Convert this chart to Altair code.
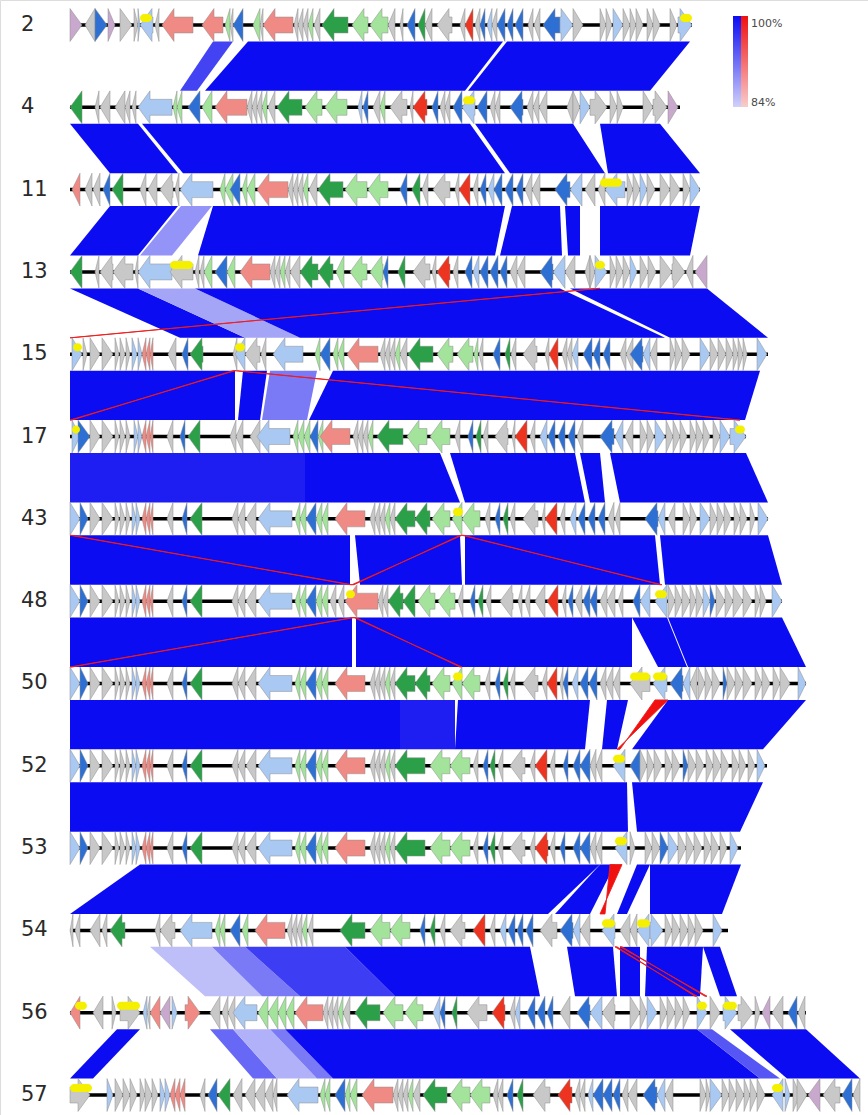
import altair as alt
import pandas as pd

# ---------------------------------------------------------------- data
TRACK_NAMES = ["2", "4", "11", "13", "15", "17", "43", "48", "50", "52", "53", "54", "56", "57"]
TRACK_LENGTHS = [62.2, 61.0, 63.0, 63.7, 69.8, 67.6, 69.8, 71.2, 73.6, 69.7, 67.1, 65.8, 73.6, 79.0]

# gene classes -> fill colour
GENE_COLOURS = {
    "g": "#c8c8c8",  # hypothetical
    "b": "#a9c8f2",  # light blue
    "B": "#2e6fd4",  # dark blue
    "p": "#f08a84",  # salmon
    "G": "#2ca048",  # dark green
    "l": "#a4e39c",  # light green
    "r": "#ec3420",  # red
    "m": "#c8a8cc",  # mauve
}
YELLOW = "#f5f000"

# genes: "start,end,class+strand"; "start,end,Y" is a yellow tag on the upper half
GENES_2 = """
0.0,1.2,m> 1.5,2.5,g< 2.5,3.7,B> 3.8,4.5,m> 5.0,6.2,g> 6.4,6.8,g> 6.8,7.0,b> 7.0,8.3,b< 7.0,8.2,Y
8.5,8.9,g< 9.2,12.3,p< 13.2,15.3,p< 15.5,16.0,l< 16.0,16.3,g< 16.3,17.3,B< 18.3,19.0,l< 19.0,19.3,g<
19.3,22.3,p< 22.4,22.8,g< 22.8,23.3,g< 23.3,23.8,g< 23.8,24.3,l< 24.4,25.0,g< 25.2,27.8,G< 28.2,29.8,l<
30.0,31.8,l< 31.8,32.5,g< 33.0,33.3,g< 33.7,34.5,B< 34.8,35.5,G< 35.5,36.2,g< 36.7,38.2,g< 39.0,39.5,g<
39.5,40.3,r< 40.5,41.0,g< 41.0,41.5,B< 41.7,42.2,b< 42.2,42.7,g< 42.7,43.5,B< 43.7,44.3,B< 44.5,45.3,B<
45.8,46.3,g< 46.4,47.0,g< 47.3,49.0,B< 49.0,50.3,b> 50.3,51.3,g> 53.0,53.6,g> 53.6,54.2,g> 54.3,55.3,b>
55.3,56.0,g> 56.0,56.6,g> 56.6,57.3,g> 57.7,58.3,g> 58.3,59.0,g> 60.0,60.7,g> 60.8,62.2,b> 61.0,62.2,Y
"""

GENES_4 = """
0.0,1.2,G< 2.5,2.9,g< 3.0,4.0,g< 4.5,5.5,g< 5.5,6.0,g< 6.2,6.6,g< 6.8,10.2,b< 10.3,10.7,l< 10.7,11.2,l<
11.8,13.0,B< 13.2,14.2,l< 14.5,17.7,p< 17.7,18.2,g< 18.2,18.7,g< 18.7,19.2,g< 19.2,19.7,l< 19.8,20.5,g<
20.7,23.2,G< 23.5,25.2,l< 25.5,27.7,l< 28.8,29.2,b< 29.3,29.8,B< 30.3,31.0,g< 31.0,31.5,l< 32.0,33.7,g<
34.0,34.3,g< 34.3,35.7,r< 36.2,36.8,B< 37.0,37.5,g< 37.5,38.0,g< 38.3,39.2,B< 39.2,40.5,b< 39.3,40.5,Y
40.7,41.7,B< 42.0,42.5,g< 42.5,43.0,g< 44.0,45.3,B< 45.7,46.3,g< 46.3,46.9,g< 46.9,47.7,g< 49.7,50.3,g<
50.3,51.0,g> 51.0,52.0,b> 52.0,53.7,g> 54.0,54.7,g> 54.7,55.3,g> 57.3,58.3,g> 58.3,59.7,g> 59.8,60.8,m>
"""

GENES_11 = """
0.2,1.0,p< 1.5,2.2,g< 2.3,3.0,g< 3.3,4.0,B< 4.2,5.3,G< 7.0,7.6,g< 7.8,8.7,g< 9.0,10.3,g< 10.5,10.9,g<
11.0,14.3,b< 15.0,15.5,l< 15.5,16.3,l< 16.0,17.0,B< 17.2,17.7,l< 17.7,18.5,l< 18.7,21.8,p< 21.8,22.3,g<
22.3,22.8,g< 22.8,23.3,g< 23.3,23.8,l< 23.9,24.7,g< 24.8,27.3,G< 27.5,29.7,l< 29.8,31.8,l< 33.0,33.7,B<
34.2,35.0,G< 35.2,35.8,g< 36.3,38.0,g< 38.5,38.9,g< 38.9,40.0,r< 40.3,40.8,g< 41.0,41.6,B< 41.8,42.4,b<
42.4,43.2,B< 43.5,44.3,B< 44.6,45.3,B< 45.5,46.2,g< 46.2,47.0,g< 48.5,50.0,B< 50.0,51.2,b< 51.5,52.5,g<
52.8,53.5,g< 53.5,55.5,b< 53.0,55.2,Y 55.7,56.3,g> 56.3,57.0,g> 57.0,57.7,b> 57.7,58.5,g> 59.0,60.0,g>
60.0,61.0,g> 61.3,62.0,g> 62.0,63.0,b>
"""

GENES_13 = """
0.0,1.2,G< 2.5,2.9,g< 3.0,4.3,g< 4.3,6.3,g< 6.5,6.8,g< 6.8,10.2,b< 10.0,12.3,g< 10.0,12.3,Y 12.5,12.9,g<
13.0,13.4,g< 13.4,14.2,l< 14.5,15.7,B< 15.7,16.5,l< 17.0,20.0,p< 20.0,20.5,g< 20.5,21.0,g< 21.0,21.5,l<
21.5,22.0,g< 22.0,23.0,g< 23.0,24.8,G< 24.8,26.3,G< 26.6,27.4,l< 28.0,29.7,l< 30.0,31.3,l< 31.3,31.8,B<
32.8,33.5,G< 34.3,36.0,g< 36.2,36.6,g< 36.7,38.0,r< 38.3,38.8,g< 39.5,40.2,B< 40.3,40.9,b< 41.0,41.8,B<
42.0,42.8,B< 43.0,43.7,B< 44.0,44.7,g< 44.7,45.5,g< 47.0,48.3,B< 48.3,49.5,b< 49.5,50.5,g< 51.5,52.0,g<
52.0,52.5,g> 52.5,53.7,b> 52.5,53.5,Y 54.0,54.6,g> 54.6,55.3,g> 55.3,56.0,g> 56.0,56.7,b> 57.0,57.8,g>
57.8,58.6,g> 59.0,60.2,g> 60.2,61.5,g> 61.6,62.3,g< 62.5,63.7,m<
"""

GENES_15 = """
0.2,1.2,b> 0.3,1.2,Y 1.3,1.7,g> 2.0,3.0,g> 3.2,4.3,g> 4.5,4.9,g> 5.0,5.5,g> 5.6,6.0,g> 6.2,6.7,b>
6.8,7.2,b> 7.2,7.6,p< 7.6,8.0,p< 8.0,8.3,p< 9.8,10.6,g< 11.2,11.8,B< 12.0,13.3,G< 16.3,16.7,g<
16.5,17.5,b< 16.5,17.5,Y 17.5,19.0,g< 19.1,19.6,g< 20.3,23.3,b< 24.5,25.0,l< 25.0,26.0,B< 26.3,26.8,l<
26.8,27.4,l< 27.7,30.8,p< 31.0,31.5,g< 31.5,32.0,g< 32.0,32.5,g< 32.5,33.0,l< 33.0,33.7,g< 33.8,36.3,G<
36.7,38.3,l< 38.7,40.3,l< 40.4,40.8,l< 40.9,41.3,g< 42.3,43.0,B< 43.5,44.0,G< 44.1,44.6,g< 45.3,46.7,g<
47.5,47.9,g< 47.9,48.8,r< 49.2,49.7,g< 49.7,50.2,g< 50.2,50.8,b< 51.3,52.2,B< 52.3,53.0,B< 53.3,54.0,B<
55.0,55.6,g< 55.6,56.3,g< 56.0,57.3,B< 57.3,58.0,b< 58.0,58.7,g< 60.0,60.5,g> 60.5,61.2,g> 61.2,62.0,g>
63.0,64.0,b> 64.0,64.8,g> 64.8,65.6,g> 65.6,66.3,g> 66.3,66.8,g> 66.8,67.3,g> 67.3,67.7,g> 68.7,69.7,b>
"""

GENES_17 = """
0.2,1.0,b> 0.8,2.0,B> 0.2,1.0,Y 2.0,3.0,g> 3.2,4.3,g> 4.5,4.9,g> 5.0,5.5,g> 5.6,6.0,g> 6.4,6.8,b>
6.8,7.2,b> 7.2,7.6,p< 7.6,8.0,p< 8.0,8.3,p< 9.7,10.3,g< 11.0,11.5,B< 11.8,13.0,G< 16.0,16.6,g<
16.6,17.3,g< 18.0,19.0,g< 18.7,22.0,b< 22.3,22.8,l< 22.8,23.4,l< 23.4,24.0,l< 24.0,24.8,B< 24.8,25.3,l<
25.0,28.0,p< 28.3,28.8,g< 28.8,29.3,g< 29.3,29.8,g< 29.8,30.3,l< 30.7,33.3,G< 33.7,35.7,l< 36.0,38.0,l<
38.5,39.0,g< 39.8,40.3,B< 40.6,41.1,G< 41.3,41.8,g< 42.5,43.8,g< 44.2,44.5,g< 44.5,45.7,r< 46.0,46.5,g<
47.0,47.7,b< 47.8,48.5,B< 48.8,49.5,B< 49.8,50.5,B< 50.7,51.3,g< 53.0,54.4,B< 54.5,55.3,b< 55.5,56.3,g<
57.0,57.7,g> 57.7,58.4,g> 58.5,59.5,b> 59.6,60.3,g> 60.3,61.0,g> 61.0,61.7,g> 62.0,62.6,g> 62.6,63.3,g>
63.3,64.0,g> 64.3,65.0,g> 65.0,66.0,b> 66.0,67.6,b> 66.5,67.5,Y
"""

# shared opening of genomes 43-53
OPENING_43 = """
0.0,1.0,b> 1.0,1.8,B> 2.0,3.0,g> 3.2,4.3,g> 4.5,4.9,g> 5.0,5.5,g> 5.6,6.0,g> 6.2,6.6,b> 6.6,7.0,b>
7.2,7.6,p< 7.6,8.0,p< 8.0,8.3,p< 9.7,10.3,g< 11.2,11.7,B< 12.0,13.2,G< 16.2,16.8,g< 16.8,17.5,g<
17.6,18.6,g< 18.8,22.2,b< 22.5,23.0,l< 23.0,23.6,l< 23.6,24.6,B< 24.6,25.2,l< 25.2,25.8,l<
"""

GENES_43 = OPENING_43 + """
26.5,29.5,p< 30.0,30.5,g< 30.5,31.0,g< 31.0,31.5,g< 31.5,32.0,l< 32.0,32.5,g< 32.5,34.5,G< 34.5,36.0,G<
36.2,38.0,l< 38.2,39.2,l< 38.3,39.3,Y 39.2,41.0,l< 41.5,42.0,g< 42.5,43.0,B< 43.3,43.8,G< 44.0,44.5,g<
45.3,46.8,g< 47.2,47.5,g< 47.5,48.7,r< 49.0,49.5,g< 50.0,50.6,b< 50.8,51.5,B< 51.8,52.5,B< 52.8,53.5,B<
53.8,54.4,g< 54.5,55.0,g< 57.5,58.8,B< 58.8,59.5,b< 59.8,60.5,g< 61.3,62.0,g> 62.0,62.7,g> 63.0,64.0,b>
64.0,64.7,g> 64.7,65.4,g> 65.4,66.1,g> 66.4,67.0,g> 67.0,67.7,g> 68.0,68.5,g> 68.8,69.8,b>
"""

GENES_48 = OPENING_43 + """
26.0,26.6,g< 26.8,27.4,g< 27.5,30.8,p< 27.6,28.5,Y 30.8,31.3,g< 31.3,31.8,g< 31.8,33.3,G< 33.3,34.5,G<
34.8,36.5,l< 36.8,38.5,l< 38.8,39.3,g< 40.0,40.5,B< 40.8,41.3,G< 41.6,42.1,g< 43.0,44.3,g< 44.8,45.2,g<
45.5,46.0,g< 46.5,47.5,g< 47.7,48.8,r< 49.2,49.6,g< 49.8,50.3,B< 50.5,51.2,g< 51.3,52.0,B< 52.0,52.7,B<
53.0,53.7,g< 53.7,54.5,g< 54.8,55.3,g< 56.3,57.0,B< 57.0,58.0,b< 58.5,59.7,b< 58.5,59.7,Y 59.8,60.5,g>
60.5,61.2,g> 61.2,62.0,g> 62.0,62.6,g> 62.6,63.3,g> 63.3,64.0,b> 64.0,64.5,B> 64.6,65.5,g> 65.5,66.3,g>
66.3,67.3,g> 67.3,68.2,g> 68.5,69.0,g> 69.0,69.6,g> 70.2,71.2,b>
"""

GENES_50 = OPENING_43 + """
26.5,29.5,p< 30.0,30.5,g< 30.5,31.0,g< 31.0,31.5,g< 31.5,32.0,l< 32.0,32.5,g< 32.5,34.5,G< 34.5,36.0,G<
36.2,38.0,l< 38.2,39.2,l< 38.3,39.3,Y 39.2,41.0,l< 41.5,42.0,g< 42.5,43.0,B< 43.3,43.8,G< 44.0,44.5,g<
45.3,46.8,g< 47.2,47.7,g< 47.7,48.7,r< 49.0,49.3,g< 49.3,49.8,B< 50.2,50.8,b< 51.0,51.8,B< 51.9,52.7,B<
53.0,53.6,g< 53.6,54.3,g< 54.3,55.0,g< 56.0,58.0,g< 56.0,58.0,Y 58.3,59.7,b< 58.3,59.7,Y 60.0,61.3,B<
61.3,62.0,b< 62.0,62.7,g< 62.8,63.5,g> 63.5,64.2,g> 64.2,65.0,g> 65.3,65.7,B> 65.7,66.5,g> 66.5,67.3,g>
67.3,68.2,g> 68.5,69.2,g> 69.2,70.0,g> 70.3,71.0,g> 71.0,72.0,g> 72.8,73.6,b>
"""

GENES_52 = OPENING_43 + """
26.5,29.5,p< 30.0,30.5,g< 30.5,31.0,g< 31.0,31.5,g< 31.5,32.0,l< 32.0,32.5,g< 32.5,35.5,G< 36.0,38.0,l<
38.0,40.0,l< 40.3,40.8,g< 41.3,41.8,B< 42.0,42.5,G< 42.8,43.3,g< 44.0,45.5,g< 46.0,46.5,g< 46.5,47.7,r<
48.0,48.5,g< 49.3,49.8,B< 50.3,51.0,B< 51.0,52.0,B< 52.0,52.6,g< 52.6,53.2,g< 54.3,55.5,b< 54.3,55.5,Y
56.0,57.0,B< 57.0,57.7,g> 57.7,58.4,g> 58.4,59.2,g> 59.5,60.2,g> 60.2,61.0,g> 61.3,61.8,B> 61.8,62.6,g>
62.6,63.4,g> 63.6,64.3,g> 64.3,65.1,g> 65.1,65.9,g> 66.2,66.9,g> 66.9,67.6,g> 67.8,68.5,g> 68.7,69.5,b>
"""

GENES_53 = OPENING_43 + """
26.5,29.5,p< 30.0,30.5,g< 30.5,31.0,g< 31.0,31.5,g< 31.5,32.0,l< 32.0,32.5,g< 32.5,35.5,G< 36.0,38.0,l<
38.0,40.0,l< 40.3,40.8,g< 41.3,41.8,B< 42.0,42.5,G< 42.8,43.3,g< 44.0,45.5,g< 46.0,46.5,g< 46.5,47.8,r<
48.0,48.5,g< 49.0,49.5,B< 50.3,51.0,B< 51.0,52.0,B< 52.0,52.6,g< 52.6,53.2,g< 54.5,55.7,b< 54.5,55.7,Y
56.0,56.5,g> 57.5,58.2,g> 58.2,59.0,g> 59.0,59.8,B> 59.8,60.8,b> 60.8,61.6,g> 61.6,62.4,g> 62.4,63.2,g>
63.4,64.1,g> 64.1,64.9,g> 65.0,65.7,g> 66.0,66.8,b>
"""

GENES_54 = """
0.0,0.3,g< 0.5,1.0,g< 2.0,3.0,g< 3.2,3.7,g< 4.0,5.5,G< 8.5,9.0,g< 9.0,10.5,g< 11.0,14.2,b< 14.5,15.0,l<
15.0,15.5,l< 16.0,17.0,B< 17.2,17.8,l< 18.5,21.5,p< 21.7,22.2,g< 22.2,22.7,g< 22.7,23.2,g< 23.2,23.7,l<
23.8,24.3,g< 27.0,29.5,G< 30.0,32.0,l< 32.0,34.0,l< 35.0,35.5,B< 36.0,36.5,G< 37.0,37.5,g< 38.0,39.5,g<
40.3,41.5,r< 42.0,42.5,g< 43.0,43.6,b< 43.8,44.5,B< 44.7,45.3,B< 45.6,46.3,B< 47.0,48.7,g< 49.0,50.3,B<
50.3,51.0,b< 51.0,52.0,g< 53.2,54.5,b< 53.2,54.5,Y 55.0,56.0,g< 56.0,56.7,g< 56.7,58.0,b< 56.7,58.0,Y
58.0,59.3,b> 59.5,60.2,g> 60.2,61.0,g> 61.0,61.8,g> 61.8,62.5,g> 62.5,63.3,g> 64.3,65.2,b>
"""

GENES_56 = """
0.0,1.0,p< 0.5,1.7,Y 2.3,3.3,g< 4.2,4.6,g> 5.0,7.0,g> 4.7,7.0,Y 7.3,7.7,b< 7.7,8.0,g< 8.0,9.0,p<
9.0,10.0,m< 10.2,10.7,b> 11.5,13.0,p> 14.0,15.0,g< 15.2,15.8,g< 15.8,16.5,g< 16.3,18.7,b< 18.8,19.8,l<
19.8,20.8,l< 20.8,21.6,l< 21.6,22.4,l< 22.5,25.3,p< 25.3,25.8,g< 25.8,26.3,g< 26.3,26.8,g< 26.8,27.3,l<
27.3,28.0,g< 28.5,31.0,G< 31.3,33.3,l< 33.5,35.3,l< 36.3,37.0,b< 37.0,37.5,B< 38.2,38.7,G< 39.7,41.7,g<
42.2,43.5,r< 44.0,44.5,g< 44.5,45.0,b< 45.7,46.5,B< 46.7,47.5,B< 47.7,48.3,B< 49.0,50.0,g< 50.7,52.0,B<
52.0,53.2,b< 53.2,54.5,g< 56.0,57.0,g> 57.0,57.7,g> 57.7,58.7,b> 59.0,59.7,g> 59.7,60.5,g> 60.5,61.3,g>
61.3,62.0,g> 62.7,63.7,b> 62.7,63.7,Y 64.0,65.0,g> 65.3,66.7,b> 65.3,66.7,Y 66.8,68.3,g> 68.5,69.0,g>
69.2,70.0,m< 70.2,71.3,g< 71.8,72.7,B< 72.8,73.5,g<
"""

GENES_57 = """
0.0,2.0,g> 0.0,2.2,Y 3.7,4.3,b> 4.5,5.3,g> 5.3,6.0,g> 6.0,6.7,g> 7.0,7.5,g> 7.5,8.2,g> 8.2,8.8,g>
9.0,9.5,b> 9.5,10.0,b> 10.0,10.5,p< 10.5,11.0,p< 11.0,11.5,p< 13.0,13.5,g< 13.8,14.7,B< 14.8,16.0,G<
16.3,17.2,g< 17.5,18.5,g< 18.5,19.5,g< 19.5,20.3,g< 20.3,20.7,g< 21.7,24.8,b< 25.0,25.5,l< 25.5,26.0,l<
26.5,27.5,B< 27.5,28.0,l< 28.0,28.7,l< 29.2,32.3,p< 32.3,32.8,g< 32.8,33.3,g< 33.3,33.8,g< 33.8,34.3,l<
34.3,35.0,g< 35.3,37.7,G< 38.0,40.0,l< 40.0,42.0,l< 42.3,42.8,g< 42.8,43.3,g< 43.7,44.3,B< 44.7,45.3,G<
46.3,48.0,g< 48.8,50.2,r< 50.5,51.0,g< 51.0,51.5,g< 51.8,52.3,b< 52.3,53.3,B< 53.3,54.2,B< 54.3,55.0,B<
55.2,55.8,g< 55.8,56.7,g< 57.3,58.7,B< 58.7,59.5,b< 59.5,60.3,g< 63.0,63.6,g> 63.6,64.0,g> 64.0,65.2,b>
65.2,65.9,g> 65.9,66.6,g> 66.6,67.4,g> 67.4,68.0,g> 68.0,68.7,g> 68.7,69.5,g> 70.2,71.3,b< 70.2,71.3,Y
71.5,72.0,b> 72.3,73.0,g> 72.7,73.7,g> 73.8,75.0,m< 75.3,77.0,g< 77.2,78.2,B< 78.3,79.0,g<
"""

GENOMES = [GENES_2, GENES_4, GENES_11, GENES_13, GENES_15, GENES_17, GENES_43,
           GENES_48, GENES_50, GENES_52, GENES_53, GENES_54, GENES_56, GENES_57]

# homologous regions between consecutive genomes:
# (upper start, upper end, lower start, lower end, % identity, inverted)
BLOCKS = [
    [(14.3, 16.3, 11.0, 12.7, 95.5, 0), (17.8, 43.3, 13.5, 39.5, 100, 0), (43.7, 62.0, 39.8, 58.0, 100, 0)],
    [(0.0, 6.8, 4.0, 10.8, 100, 0), (7.2, 40.0, 11.3, 43.5, 100, 0), (40.5, 50.3, 44.0, 53.5, 100, 0),
     (53.0, 59.0, 53.8, 63.0, 100, 0)],
    [(4.0, 10.8, 0.0, 6.8, 100, 0), (11.1, 14.2, 7.0, 10.2, 89, 0), (14.3, 43.5, 12.8, 42.5, 100, 0),
     (44.2, 49.0, 43.0, 49.2, 100, 0), (49.5, 51.0, 49.8, 51.0, 100, 0), (53.0, 63.0, 53.0, 62.0, 100, 0)],
    [(0.0, 6.8, 11.0, 17.5, 100, 0), (6.8, 12.5, 17.5, 23.0, 87.5, 0), (12.5, 49.0, 23.0, 59.5, 100, 0),
     (50.0, 63.7, 60.0, 69.8, 100, 0), (52.8, 53.0, 0.0, 0.2, 100, 1)],
    [(0.0, 16.5, 0.0, 16.5, 100, 0), (17.3, 19.7, 16.8, 19.0, 100, 0), (20.0, 24.7, 19.2, 23.7, 91, 0),
     (26.3, 69.0, 23.9, 67.5, 100, 0), (16.3, 16.5, 0.0, 0.2, 100, 1), (16.5, 16.7, 66.8, 67.0, 100, 1)],
    [(0.0, 23.5, 0.0, 23.5, 98.5, 0), (23.5, 37.0, 23.5, 39.0, 100, 0), (38.0, 50.5, 39.5, 51.5, 100, 0),
     (51.0, 53.0, 52.0, 53.5, 100, 0), (54.0, 67.6, 55.0, 69.8, 100, 0)],
    [(0.0, 28.0, 0.0, 28.0, 100, 0), (28.5, 39.0, 29.0, 39.2, 100, 0), (39.5, 58.5, 39.5, 59.0, 100, 0),
     (59.0, 69.8, 59.5, 71.2, 100, 0), (0.0, 0.2, 28.0, 28.2, 100, 1), (39.0, 39.2, 28.2, 28.4, 100, 1),
     (39.2, 39.4, 59.0, 59.2, 100, 1)],
    [(0.0, 28.2, 0.0, 28.2, 100, 0), (28.6, 56.2, 28.6, 56.2, 100, 0), (56.2, 59.7, 58.8, 61.7, 100, 0),
     (59.8, 71.2, 61.8, 73.6, 100, 0), (28.2, 28.4, 0.0, 0.2, 100, 1), (28.4, 28.6, 39.0, 39.2, 100, 1)],
    [(0.0, 33.0, 0.0, 33.0, 100, 0), (33.0, 38.5, 33.0, 38.5, 98.5, 0), (38.8, 52.0, 38.5, 51.5, 100, 0),
     (53.7, 55.8, 53.2, 54.7, 100, 0), (58.5, 59.8, 54.7, 55.0, 100, 1), (59.8, 73.6, 56.2, 69.3, 100, 0)],
    [(0.0, 55.7, 0.0, 55.8, 100, 0), (56.2, 69.3, 56.7, 67.0, 100, 0)],
    [(7.0, 53.0, 0.0, 47.8, 100, 0), (53.0, 54.5, 48.5, 52.0, 100, 0), (54.0, 55.2, 53.0, 53.5, 100, 1),
     (56.7, 58.0, 54.7, 55.7, 100, 0), (58.0, 67.1, 58.0, 65.2, 100, 0)],
    [(8.0, 14.2, 13.5, 19.2, 85.5, 0), (14.2, 17.5, 19.2, 23.0, 91, 0), (17.5, 27.5, 23.0, 32.5, 96, 0),
     (27.5, 46.0, 32.5, 47.0, 100, 0), (49.7, 54.3, 50.5, 54.7, 100, 0), (55.0, 57.0, 55.0, 57.0, 100, 0),
     (57.7, 63.3, 57.5, 63.0, 100, 0), (63.3, 65.0, 65.0, 66.7, 100, 0), (54.5, 54.7, 62.5, 62.7, 100, 1),
     (55.0, 55.2, 63.5, 63.7, 100, 1)],
    [(4.7, 7.0, 0.0, 2.3, 100, 0), (14.0, 16.3, 18.3, 20.7, 92.5, 0), (16.3, 20.0, 20.7, 24.7, 86.5, 0),
     (20.0, 21.5, 24.7, 26.3, 91, 0), (21.5, 62.7, 26.3, 69.0, 100, 0), (62.7, 64.2, 69.0, 71.0, 94, 0),
     (66.0, 73.6, 71.7, 79.0, 100, 0)],
]

IDENTITY_RANGE = [84, 100]
BLUE_RAMP = ["#d0d0fa", "#0c0cf2"]
RED_RAMP = ["#f8cccc", "#f01010"]

# ------------------------------------------------------------ geometry
HALF = 0.2      # half height of a gene row (in row units)
BODY = 0.097    # half height of an arrow shaft
HEAD = 1.2      # arrow-head length (kb)
EPS = 0.002

genes_rows, tags_rows, spine_rows = [], [], []
gid = 0
for row, spec in enumerate(GENOMES):
    spine_rows.append({"row": row, "start": 0.0, "end": TRACK_LENGTHS[row]})
    for tok in spec.split():
        s, e, c = tok.split(",")
        s, e = float(s), float(e)
        if c == "Y":
            tags_rows.append({"row": row, "start": s, "end": e,
                              "top": row - 0.134, "bottom": row - 0.036})
            continue
        cls, strand = c[0], c[1]
        h = min(HEAD, e - s)
        if strand == ">":
            if h < e - s:
                pts = [(s, BODY), (e - h, BODY), (e - h + EPS, HALF), (e, 0.0)]
            else:
                pts = [(s, HALF), (e, 0.0)]
        else:
            if h < e - s:
                pts = [(s, 0.0), (s + h, HALF), (s + h + EPS, BODY), (e, BODY)]
            else:
                pts = [(s, 0.0), (e, HALF)]
        for x, hw in pts:
            genes_rows.append({"gid": gid, "x": x, "lo": row - hw, "hi": row + hw,
                               "fill": GENE_COLOURS[cls]})
        gid += 1

block_rows = []
bid = 0
for gap, blocks in enumerate(BLOCKS):
    for (ts, te, bs, be, ident, inv) in blocks:
        kind = "inv" if inv else "dir"
        block_rows.append({"bid": bid, "y": gap + HALF, "x": ts, "x2": te, "ident": ident, "kind": kind})
        if inv:
            block_rows.append({"bid": bid, "y": gap + 1 - HALF, "x": be, "x2": bs, "ident": ident, "kind": kind})
        else:
            block_rows.append({"bid": bid, "y": gap + 1 - HALF, "x": bs, "x2": be, "ident": ident, "kind": kind})
        bid += 1

genes_df = pd.DataFrame(genes_rows)
tags_df = pd.DataFrame(tags_rows)
spine_df = pd.DataFrame(spine_rows)
blocks_df = pd.DataFrame(block_rows)
labels_df = pd.DataFrame({"row": list(range(len(TRACK_NAMES))), "name": TRACK_NAMES})

# ------------------------------------------------------------- scales
W, H = 868, 1115
xs = alt.Scale(domain=[-7.0, 79.8], nice=False, zero=False)
ys = alt.Scale(domain=[-0.3037, 13.2428], nice=False, zero=False, reverse=True)


def X(f):
    return alt.X(f, type="quantitative", scale=xs, axis=None)


def Y(f):
    return alt.Y(f, type="quantitative", scale=ys, axis=None)


blue_blocks = alt.Chart(blocks_df).transform_filter(alt.datum.kind == "dir").mark_area(
    orient="horizontal", opacity=1
).encode(
    y=Y("y"), x=X("x"), x2="x2", detail="bid:N",
    color=alt.Color("ident:Q", legend=None,
                    scale=alt.Scale(domain=IDENTITY_RANGE, range=BLUE_RAMP, interpolate="rgb")),
)

# inverted matches: crossing shapes, outlined so thin ones read as lines
red_blocks = alt.Chart(blocks_df).transform_filter(alt.datum.kind == "inv").mark_area(
    orient="horizontal", opacity=1, stroke="#ee1c1c", strokeWidth=0.9
).encode(
    y=Y("y"), x=X("x"), x2="x2", detail="bid:N",
    fill=alt.Fill("ident:Q", legend=None,
                  scale=alt.Scale(domain=IDENTITY_RANGE, range=RED_RAMP, interpolate="rgb")),
)

spine = alt.Chart(spine_df).mark_rule(color="black", strokeWidth=3.5).encode(
    x=X("start"), x2="end", y=Y("row")
)

genes = alt.Chart(genes_df).mark_area(
    orient="vertical", stroke="#8e8e8e", strokeWidth=0.5, opacity=1
).encode(
    x=X("x"), y=Y("lo"), y2="hi", detail="gid:N",
    fill=alt.Fill("fill:N", scale=None),
)

tags = alt.Chart(tags_df).mark_rect(color=YELLOW, cornerRadius=4).encode(
    x=X("start"), x2="end", y=Y("top"), y2="bottom"
)

labels = alt.Chart(labels_df).mark_text(
    align="left", baseline="middle", font="DejaVu Sans", fontSize=21, color="#2a2a2a"
).encode(x=alt.value(21), y=Y("row"), text="name:N")

# identity key
key_df = pd.DataFrame({"v": [0]})
blue_grad = alt.Gradient(gradient="linear", x1=0, x2=0, y1=0, y2=1,
                         stops=[alt.GradientStop(color=BLUE_RAMP[1], offset=0),
                                alt.GradientStop(color=BLUE_RAMP[0], offset=1)])
red_grad = alt.Gradient(gradient="linear", x1=0, x2=0, y1=0, y2=1,
                        stops=[alt.GradientStop(color=RED_RAMP[1], offset=0),
                               alt.GradientStop(color=RED_RAMP[0], offset=1)])
key_blue = alt.Chart(key_df).mark_rect(fill=blue_grad).encode(
    x=alt.value(733), x2=alt.value(741), y=alt.value(16), y2=alt.value(107))
key_red = alt.Chart(key_df).mark_rect(fill=red_grad).encode(
    x=alt.value(741), x2=alt.value(748), y=alt.value(16), y2=alt.value(107))
key_text = alt.Chart(pd.DataFrame({
    "t": [f"{IDENTITY_RANGE[1]}%", f"{IDENTITY_RANGE[0]}%"], "py": [24, 103]
})).mark_text(align="left", baseline="middle", font="DejaVu Sans", fontSize=11, color="#4a4a4a").encode(
    x=alt.value(751), y=alt.Y("py:Q", scale=None, axis=None), text="t:N")

chart = alt.layer(
    blue_blocks, red_blocks, spine, genes, tags, labels, key_blue, key_red, key_text
).resolve_scale(color="independent", fill="independent").properties(
    width=W, height=H, padding=0, autosize=alt.AutoSizeParams(type="none")
).configure_view(stroke=None).configure(background="white")

chart.save("out.html", embed_options={"renderer": "svg", "actions": False})
